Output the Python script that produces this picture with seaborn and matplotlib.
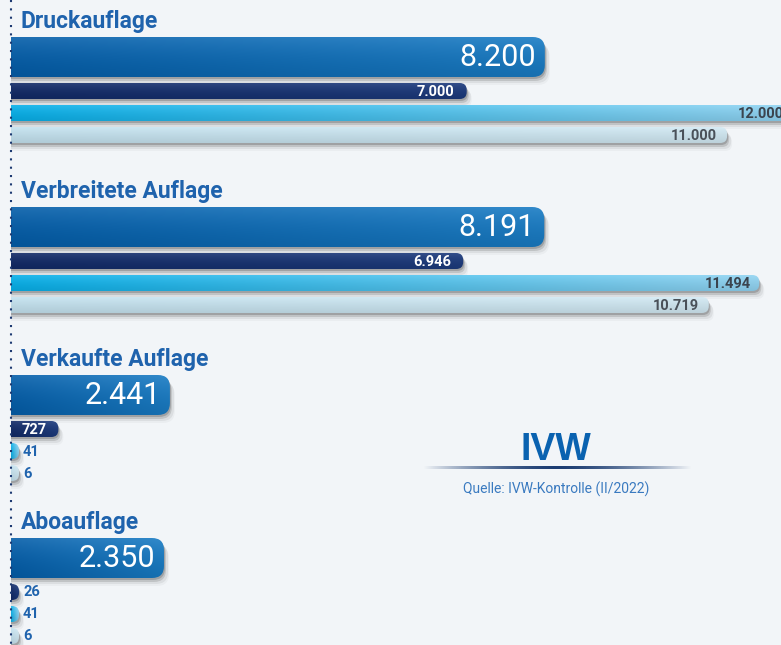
import numpy as np
import pandas as pd
import seaborn as sns
import matplotlib.pyplot as plt
from matplotlib.path import Path
from matplotlib.patches import PathPatch
from matplotlib.colors import to_rgb

sns.set_style('white')
plt.rcParams['font.family'] = ['Roboto', 'DejaVu Sans']

# data
GROUPS = ['Druckauflage', 'Verbreitete Auflage', 'Verkaufte Auflage', 'Aboauflage']
TOTAL = [8200, 8191, 2441, 2350]
SERIES_2 = [7000, 6946, 727, 26]
SERIES_3 = [12000, 11494, 41, 41]
SERIES_4 = [11000, 10719, 6, 6]
SOURCE = 'Quelle: IVW-Kontrolle (II/2022)'

# layout (pixels)
W, H = 781, 645
X0 = 11          # pixel of value 0
PX = 0.0651      # pixels per unit
GROUP_TOP = [37, 207, 375, 538]
ROWS = [(0, 40), (46, 16), (68, 16), (90, 16)]   # offset, height
MIN_PX = 8

STYLES = [
    dict(c0='#055ea9', c1='#1a7cc4', r=12, txt='white', size=22, weight='normal', pad=9),
    dict(c0='#122a66', c1='#1d3b7d', r=7, txt='white', size=10.5, weight='bold', pad=12),
    dict(c0='#08b0e9', c1='#92d4f2', r=7, txt='#3b444e', size=10.5, weight='bold', pad=8),
    dict(c0='#c4e2ef', c1='#d2e9f3', r=7, txt='#4a5159', size=10.5, weight='bold', pad=10),
]
OUT_COLOR = '#1f63ad'


def xd(px):
    return (px - X0) / PX


def fmt(v):
    return f'{v:,}'.replace(',', '.')


def bar_path(x0, x1, y0, y1, r_px):
    rx = min(r_px / PX, x1 - x0)
    ry = min(r_px, (y1 - y0) / 2)
    verts = [(x0, y0), (x1 - rx, y0), (x1, y0), (x1, y0 + ry), (x1, y1 - ry),
             (x1, y1), (x1 - rx, y1), (x0, y1), (x0, y0)]
    codes = [Path.MOVETO, Path.LINETO, Path.CURVE3, Path.CURVE3, Path.LINETO,
             Path.CURVE3, Path.CURVE3, Path.LINETO, Path.CLOSEPOLY]
    return Path(verts, codes)


def gradient(c0, c1, n=96, m=24):
    a, b = np.array(to_rgb(c0)), np.array(to_rgb(c1))
    t = np.linspace(0, 1, n)[:, None]
    row = a * (1 - t) + b * t
    img = np.repeat(row[None, :, :], m, axis=0)
    s = np.linspace(0, 1, m)[:, None, None]
    img = img + (1 - img) * 0.10 * (1 - s) ** 2
    img = img * (1 - 0.10 * s)
    return np.clip(img, 0, 1)


records = []
for g, name in enumerate(GROUPS):
    for k, vals in enumerate([TOTAL, SERIES_2, SERIES_3, SERIES_4]):
        off, h = ROWS[k]
        records.append(dict(group=name, series=k, value=vals[g],
                            yc=GROUP_TOP[g] + off + h / 2, h=h))
df = pd.DataFrame(records)

fig = plt.figure(figsize=(W / 100, H / 100), dpi=100, facecolor='#f2f5f8')
ax = fig.add_axes([0, 0, 1, 1])
ax.set_facecolor('#f2f5f8')

sns.barplot(data=df, x='value', y='yc', orient='h', native_scale=True,
            errorbar=None, color='#0a6ab4', ax=ax)

for p in list(ax.patches):
    yc = p.get_y() + p.get_height() / 2
    row = df.iloc[(df['yc'] - yc).abs().argmin()]
    p.set_visible(False)
    st = STYLES[int(row.series)]
    v = p.get_width()
    h = row.h
    y0, y1 = row.yc - h / 2, row.yc + h / 2
    x1 = max(v, MIN_PX / PX)
    path = bar_path(0, x1, y0, y1, st['r'])
    # soft shadow
    for dx, dy, al in [(1, 2, 0.17), (2, 4, 0.12), (4, 6, 0.06), (5, 8, 0.03)]:
        sh = bar_path(0, x1 + dx / PX, y0 + dy, y1 + dy, st['r'])
        ax.add_patch(PathPatch(sh, fc='black', ec='none', alpha=al, zorder=1))
    clip = PathPatch(path, fc='none', ec='none', zorder=2)
    ax.add_patch(clip)
    im = ax.imshow(gradient(st['c0'], st['c1']), extent=(0, x1, y1, y0),
                   aspect='auto', origin='upper', zorder=2, interpolation='bilinear')
    im.set_clip_path(clip)
    label = fmt(int(v))
    bar_px = x1 * PX
    if int(row.series) == 0 or bar_px > 42:
        ax.text(x1 - st['pad'] / PX, row.yc + 0.5, label, ha='right', va='center',
                color=st['txt'], fontsize=st['size'], fontweight=st['weight'], zorder=3)
    else:
        ax.text(x1 + 4 / PX, row.yc + 0.5, label, ha='left', va='center',
                color=OUT_COLOR, fontsize=10.5, fontweight='bold', zorder=3)

for g, name in enumerate(GROUPS):
    ax.text(xd(21), GROUP_TOP[g] - 9, name, ha='left', va='baseline',
            color=OUT_COLOR, fontsize=16.5, fontweight='bold', zorder=3)

# dotted axis
ax.plot([0, 0], [0, H], color='#1d3a72', lw=1.5, ls=(0, (1, 3)), zorder=4)

# IVW logo and source
ax.text(xd(556), 460, 'IVW', ha='center', va='baseline', color='#0a62b0',
        fontsize=27, fontweight='heavy', family='Liberation Sans', zorder=3)
t = np.linspace(-1, 1, 200)
line = np.zeros((1, 200, 4))
line[..., :3] = to_rgb('#1b3c72')
line[0, :, 3] = np.clip(1 - np.abs(t) ** 1.6, 0, 1)
ax.imshow(line, extent=(xd(423), xd(692), 469.5, 466.5), aspect='auto',
          origin='upper', zorder=3, interpolation='bilinear')
ax.text(xd(556), 494, SOURCE, ha='center', va='baseline', color='#3a7ac0',
        fontsize=10, zorder=3)

ax.set_xlim(xd(0), xd(W))
ax.set_ylim(H, 0)
ax.axis('off')

fig.savefig('out.png', dpi=100, facecolor=fig.get_facecolor())
